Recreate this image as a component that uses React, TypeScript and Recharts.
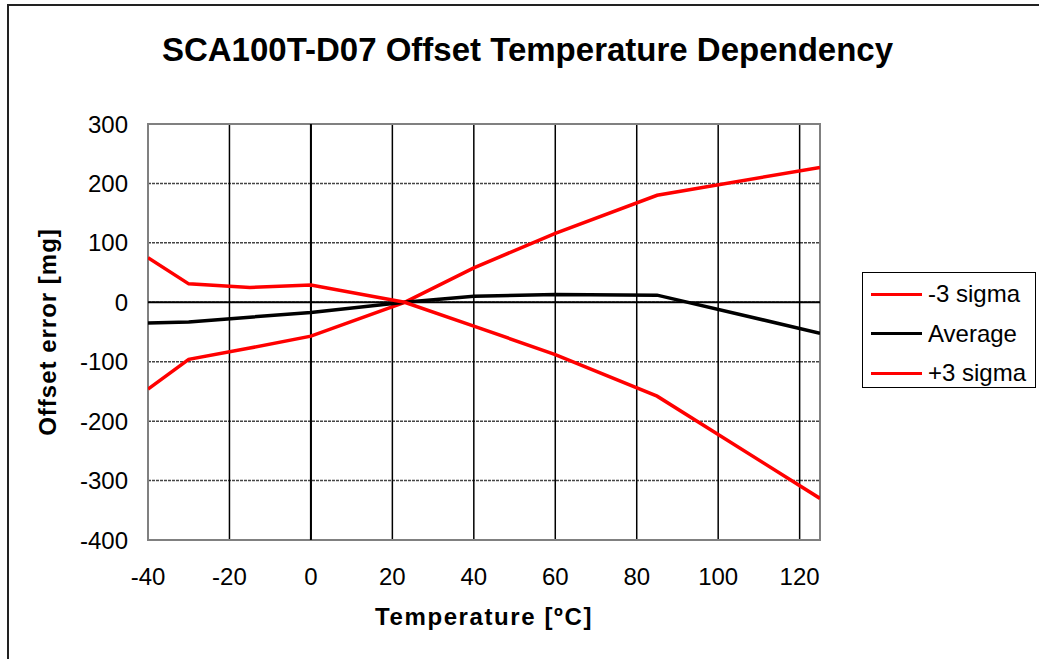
import React from 'react';
import { LineChart, Line, XAxis, YAxis, CartesianGrid, ReferenceLine, ReferenceArea } from 'recharts';

// temperature points (ºC) and offset error (mg)
const temperatures = [-40, -30, -15, 0, 23, 40, 60, 85, 125];
const minus3Sigma = [-146, -96, -77, -57, 0, 58, 116, 180, 227];
const average = [-35, -33, -25, -17, 0, 10, 13, 12, -52];
const plus3Sigma = [75, 31, 25, 29, 0, -40, -88, -158, -330];

const xTicks = [-40, -20, 0, 20, 40, 60, 80, 100, 120];
const yTicks = [-400, -300, -200, -100, 0, 100, 200, 300];

const series = [
  { key: 'minus', name: '-3 sigma', color: '#ff0000' },
  { key: 'avg', name: 'Average', color: '#000000' },
  { key: 'plus', name: '+3 sigma', color: '#ff0000' },
];

const data = temperatures.map((t, i) => ({
  t,
  minus: minus3Sigma[i],
  avg: average[i],
  plus: plus3Sigma[i],
}));

const FONT = '"Liberation Sans", Arial, sans-serif';

export default function App() {
  return (
    <div style={{ position: 'absolute', left: 0, top: 0, width: 1039, height: 659, background: '#fff', fontFamily: FONT, overflow: 'hidden' }}>
      <div style={{ position: 'absolute', left: 7, top: 4, width: 1040, height: 660, borderTop: '2px solid #222', borderLeft: '2px solid #222' }} />
      <div style={{ position: 'absolute', left: 0, width: 1055, top: 31, textAlign: 'center', fontSize: 33, fontWeight: 'bold', color: '#000' }}>
        SCA100T-D07 Offset Temperature Dependency
      </div>
      <div style={{ position: 'absolute', left: 48, top: 332, transform: 'translate(-50%, -50%) rotate(-90deg)', whiteSpace: 'nowrap', fontSize: 24, fontWeight: 'bold', letterSpacing: 1 }}>
        Offset error [mg]
      </div>
      <div style={{ position: 'absolute', left: 484, top: 617, transform: 'translate(-50%, -50%)', whiteSpace: 'nowrap', fontSize: 24, fontWeight: 'bold', letterSpacing: 1.6 }}>
        Temperature [ºC]
      </div>

      <div style={{ position: 'absolute', left: 0, top: 0 }}>
        <LineChart width={1039} height={659} data={data} margin={{ top: 124, right: 219, bottom: 59, left: 68 }}>
          <CartesianGrid horizontal={true} vertical={false} stroke="#444" strokeDasharray="3 1" strokeWidth={1.5} />
          <CartesianGrid horizontal={false} vertical={true} stroke="#000" strokeWidth={1.5} />
          <XAxis
            type="number"
            dataKey="t"
            domain={[-40, 125]}
            ticks={xTicks}
            allowDataOverflow
            height={60}
            axisLine={false}
            tickLine={false}
            tickSize={0}
            tickMargin={28}
            tick={{ fontSize: 24, fill: '#000', fontFamily: FONT }}
          />
          <YAxis
            type="number"
            domain={[-400, 300]}
            ticks={yTicks}
            allowDataOverflow
            width={80}
            axisLine={false}
            tickLine={false}
            tickSize={0}
            tickMargin={20}
            tick={{ fontSize: 24, fill: '#000', fontFamily: FONT }}
          />
          <ReferenceArea x1={-40} x2={125} y1={-400} y2={300} fill="none" fillOpacity={0} stroke="#808080" strokeWidth={2} />
          <ReferenceLine y={0} stroke="#000" strokeWidth={2} />
          <ReferenceLine x={0} stroke="#000" strokeWidth={2} />
          {series.map((s) => (
            <Line
              key={s.key}
              type="linear"
              dataKey={s.key}
              name={s.name}
              stroke={s.color}
              strokeWidth={3.5}
              dot={false}
              isAnimationActive={false}
            />
          ))}
        </LineChart>
      </div>

      <div style={{ position: 'absolute', left: 862, top: 272, width: 172, height: 114, border: '1.5px solid #000', background: '#fff' }}>
        {series.map((s, i) => (
          <div key={s.key} style={{ position: 'absolute', left: 0, top: 21 + i * 39.5, transform: 'translateY(-50%)', display: 'flex', alignItems: 'center', whiteSpace: 'nowrap' }}>
            <div style={{ width: 51, height: 3, background: s.color, marginLeft: 8, marginRight: 6 }} />
            <span style={{ fontSize: 24, color: '#000' }}>{s.name}</span>
          </div>
        ))}
      </div>
    </div>
  );
}
